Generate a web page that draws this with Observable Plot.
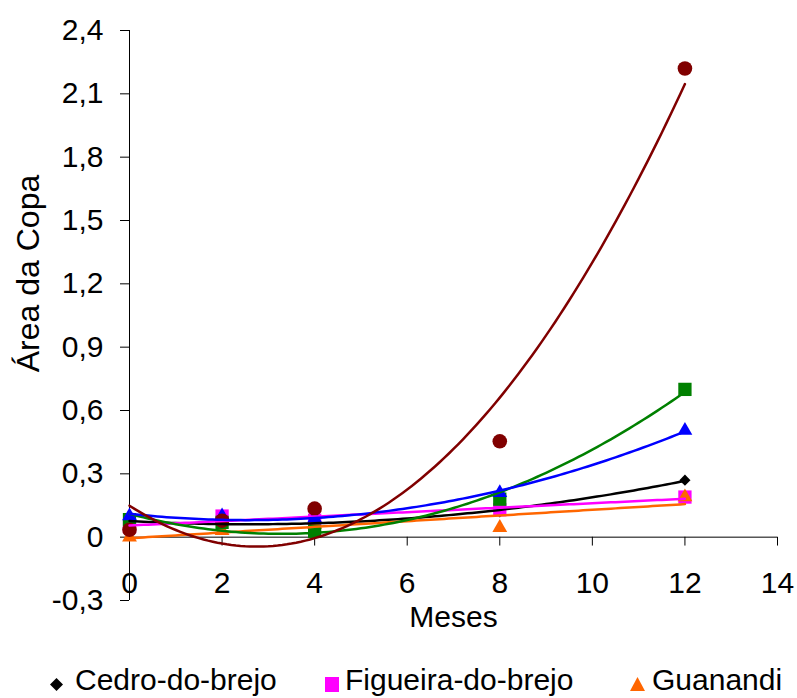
<!DOCTYPE html>
<html><head><meta charset="utf-8">
<script src="https://cdn.jsdelivr.net/npm/d3@7"></script>
<script src="https://cdn.jsdelivr.net/npm/@observablehq/plot@0.6"></script>
<style>
body{margin:0;background:#fff;width:797px;height:698px;overflow:hidden;font-family:"Liberation Sans",Arial,sans-serif;}
#chart svg{display:block;}
#legend{position:relative;height:43px;font-size:30px;color:#000;}
#legend .item{position:absolute;top:10px;display:flex;align-items:center;line-height:30px;white-space:nowrap;}
#legend svg{display:block;position:relative;top:4px;}
</style></head>
<body><div id="chart"></div><div id="legend"></div>
<script>
// ---- data ----
const months = [0, 2, 4, 8, 12];
const cedro = [0.07, 0.07, 0.07, 0.12, 0.27];        // black diamonds
const figueira = [0.05, 0.10, 0.08, 0.13, 0.19];     // magenta squares
const guanandi = [0.0, 0.03, 0.06, 0.045, 0.19];     // orange triangles
const serieVermelha = [0.035, 0.078, 0.135, 0.454, 2.22]; // dark red circles
const serieVerde = [0.083, 0.07, 0.028, 0.18, 0.70];      // green squares
const serieAzul = [0.10, 0.10, 0.09, 0.21, 0.505];        // blue triangles
const xTicks = [0, 2, 4, 6, 8, 10, 12, 14];
const yTicks = [-0.3, 0, 0.3, 0.6, 0.9, 1.2, 1.5, 1.8, 2.1, 2.4];
const legendNames = ["Cedro-do-brejo", "Figueira-do-brejo", "Guanandi"];

// series definitions (styles)
const series = [
  {values: cedro, color: "#000000", symbol: "diamond2", r: 5, deg: 2},
  {values: figueira, color: "#ff00ff", symbol: "square", r: 7.5, deg: 1},
  {values: guanandi, color: "#ff6600", symbol: "triangle", r: 5.5, deg: 1},
  {values: serieVerde, color: "#008000", symbol: "square", r: 7.5, deg: 2},
  {values: serieAzul, color: "#0000ff", symbol: "triangle", r: 5.5, deg: 2},
  {values: serieVermelha, color: "#800000", symbol: "circle", r: 7.3, deg: 2}
];

// least-squares polynomial trendline (like a spreadsheet trendline)
function polyfit(xs, ys, deg) {
  const n = deg + 1;
  const A = Array.from({length: n}, () => new Array(n + 1).fill(0));
  for (let i = 0; i < xs.length; i++) {
    for (let r = 0; r < n; r++) {
      for (let c = 0; c < n; c++) A[r][c] += Math.pow(xs[i], r + c);
      A[r][n] += ys[i] * Math.pow(xs[i], r);
    }
  }
  for (let k = 0; k < n; k++) {
    let p = k;
    for (let r = k + 1; r < n; r++) if (Math.abs(A[r][k]) > Math.abs(A[p][k])) p = r;
    [A[k], A[p]] = [A[p], A[k]];
    for (let r = k + 1; r < n; r++) {
      const f = A[r][k] / A[k][k];
      for (let c = k; c <= n; c++) A[r][c] -= f * A[k][c];
    }
  }
  const coef = new Array(n).fill(0);
  for (let k = n - 1; k >= 0; k--) {
    let s = A[k][n];
    for (let c = k + 1; c < n; c++) s -= A[k][c] * coef[c];
    coef[k] = s / A[k][k];
  }
  return coef;
}
const sampleX = d3.range(0, 12.0001, 0.1);
function trend(s) {
  const coef = polyfit(months, s.values, s.deg);
  return sampleX.map(x => ({x, y: coef.reduce((acc, c, i) => acc + c * Math.pow(x, i), 0)}));
}

const fmt = d => d === 0 ? "0" : d.toFixed(1).replace(".", ",");

const marks = [
  Plot.ruleY([0], {stroke: "#000", strokeWidth: 1}),
  Plot.ruleX([0], {stroke: "#000", strokeWidth: 1}),
  Plot.axisY({ticks: yTicks, tickSize: 9, tickPadding: 17, tickFormat: fmt, label: null}),
  Plot.vector(xTicks, {x: d => d, y: () => 0, length: 8, rotate: 180, anchor: "start",
    stroke: "#000", strokeWidth: 1,
    shape: {draw(ctx, l) { ctx.moveTo(0, 0); ctx.lineTo(0, -l); }}}),
  Plot.text(xTicks, {x: d => d, text: d => String(d), frameAnchor: "bottom", lineAnchor: "middle", dy: -17}),
  Plot.text(["Meses"], {frameAnchor: "bottom", lineAnchor: "middle", dy: 17}),
  Plot.text(["Área da Copa"], {frameAnchor: "left", rotate: -90, textAnchor: "middle", lineAnchor: "middle", dx: -101, dy: -42, fontSize: 32})
];
for (const s of series) {
  marks.push(Plot.dot(months.map((m, i) => ({x: m, y: s.values[i]})),
    {x: "x", y: "y", symbol: s.symbol, r: s.r, fill: s.color, stroke: "none"}));
}
for (const s of series) {
  marks.push(Plot.line(trend(s), {x: "x", y: "y", stroke: s.color, strokeWidth: 2.5}));
}

const chart = Plot.plot({
  width: 797, height: 655,
  marginLeft: 129, marginRight: 20, marginTop: 30, marginBottom: 55,
  x: {domain: [0, 14], axis: null},
  y: {domain: [-0.3, 2.4], axis: null},
  style: {fontFamily: "'Liberation Sans', Arial, sans-serif", fontSize: "30px", color: "#000", background: "#fff", overflow: "visible"},
  marks
});
document.getElementById("chart").append(chart);

// legend (only the three entries visible in the reference)
const legendSymbols = [
  {left: 50, gap: 12, svg: '<svg width="13" height="13"><path d="M6.5 0L13 6.5L6.5 13L0 6.5Z" fill="#000"/></svg>'},
  {left: 325, gap: 6, svg: '<svg width="14" height="15"><rect width="14" height="15" fill="#ff00ff"/></svg>'},
  {left: 630, gap: 7, svg: '<svg width="15" height="14"><path d="M7.5 0L15 14L0 14Z" fill="#ff6600"/></svg>'}
];
const legend = document.getElementById("legend");
legendNames.forEach((name, i) => {
  const it = document.createElement("div");
  it.className = "item";
  it.style.left = legendSymbols[i].left + "px";
  it.innerHTML = legendSymbols[i].svg + '<span style="margin-left:' + legendSymbols[i].gap + 'px">' + name + '</span>';
  legend.append(it);
});
</script></body></html>
